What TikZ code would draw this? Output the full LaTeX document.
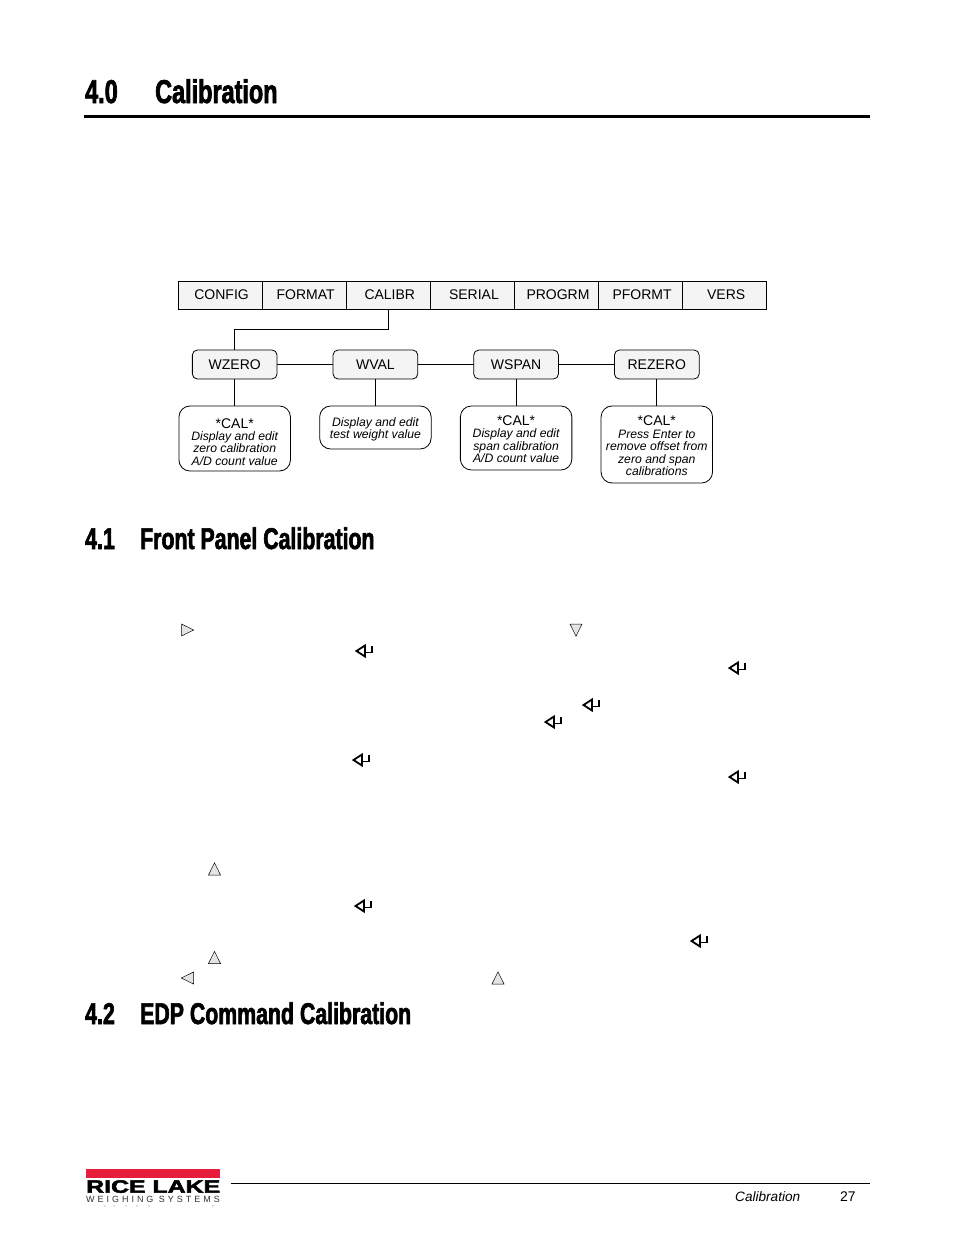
\documentclass[tikz,border=0pt]{standalone}
\usepackage{fontspec}
\setmainfont{Liberation Sans}
\newfontfamily\headfont[FakeStretch=0.71,FakeBold=2]{Liberation Sans Bold}
\newfontfamily\logofont[LetterSpace=33]{Liberation Sans}
\newfontfamily\logoheavy[FakeBold=2.5]{Liberation Sans Bold}
\usetikzlibrary{positioning}
\definecolor{ricered}{HTML}{E61E3C}
\definecolor{panelgray}{HTML}{F4F4F4}
\definecolor{icongray}{HTML}{E4E4E4}
\tikzset{
  menubox/.style={draw,fill=panelgray,line width=0.8pt,outer sep=0pt,minimum width=84.1pt,minimum height=28pt,inner sep=0pt,font=\fontsize{14}{14}\selectfont,execute at begin node=\hspace{3pt}},
  stepbox/.style={draw,fill=panelgray,rounded corners=5pt,line width=0.8pt,outer sep=0pt,minimum width=84.7pt,minimum height=29pt,inner sep=0pt,font=\fontsize{14}{14}\selectfont},
  notebox/.style={draw,fill=white,rounded corners=11pt,line width=0.8pt,outer sep=0pt,minimum width=111.5pt,inner sep=0pt,align=center,font=\fontsize{12.2}{12.4}\selectfont\itshape},
  headtext/.style={anchor=base west,inner sep=0pt,font=\fontsize{33}{33}\selectfont\headfont},
  subheadtext/.style={anchor=base west,inner sep=0pt,font=\fontsize{30}{30}\selectfont\headfont},
  foottext/.style={anchor=base west,inner sep=0pt,font=\fontsize{14}{14}\selectfont},
  pics/enterkey/.style={code={
    \draw[line width=1.8pt,miter limit=10] (-7.5,0) -- (1,-5.5) -- (1,5.5) -- cycle;
    \draw[line width=1.6pt] (1,1.3) -- (8,1.3) -- (8,-5);
  }},
  pics/triicon/.style={code={
    \filldraw[fill=icongray,line width=0.5pt] (0,-6.2) -- (-6,6) -- (6,6) -- cycle;
  }},
}
\newcommand{\calline}[1]{{\upshape\fontsize{14}{12.4}\selectfont\rule{0pt}{#1pt}*CAL*}}
\begin{document}
\begin{tikzpicture}[x=1pt,y=-1pt]
    \useasboundingbox (0,0) rectangle (954,1235);
    % page headings
    \fill (84,115) rectangle (870,118);
    \node[headtext] (h40) at (85,103) {4.0};
    \node[headtext] (h40t) at (155,103) {Calibration};
    \node[subheadtext] (h41) at (85,549) {4.1};
    \node[subheadtext] (h41t) at (140,549) {Front Panel Calibration};
    \node[subheadtext] (h42) at (85,1024) {4.2};
    \node[subheadtext] (h42t) at (140,1024) {EDP Command Calibration};
    % menu row
    \node[menubox] (config) at (220.1,295) {CONFIG};
    \node[menubox,right=0pt of config] (format) {FORMAT};
    \node[menubox,right=0pt of format] (calibr) {CALIBR};
    \node[menubox,right=0pt of calibr] (serial) {SERIAL};
    \node[menubox,right=0pt of serial] (progrm) {PROGRM};
    \node[menubox,right=0pt of progrm] (pformt) {PFORMT};
    \node[menubox,right=0pt of pformt] (vers) {VERS};
    % calibration steps
    \node[stepbox] (wzero) at (234.7,364.5) {WZERO};
    \node[stepbox,right=56pt of wzero] (wval) {WVAL};
    \node[stepbox,right=56pt of wval] (wspan) {WSPAN};
    \node[stepbox,right=56pt of wspan] (rezero) {REZERO};
    \node[notebox,below=27pt of wzero,minimum height=65pt] (nzero) {\calline{16.5}\\Display and edit\\zero calibration\\A/D count value};
    \node[notebox,below=27pt of wval,minimum height=43pt] (nval) {\rule{0pt}{13pt}Display and edit\\test weight value};
    \node[notebox,below=27pt of wspan,minimum height=64pt] (nspan) {\calline{12.5}\\Display and edit\\span calibration\\A/D count value};
    \node[notebox,below=27pt of rezero,minimum height=77pt] (nrezero) {\calline{12.5}\\Press Enter to\\remove offset from\\zero and span\\calibrations};
    \draw[line width=0.8pt] (calibr.south) -- ++(0,20) -| (wzero.north);
    \draw[line width=0.8pt] (wzero) -- (wval);
    \draw[line width=0.8pt] (wval) -- (wspan);
    \draw[line width=0.8pt] (wspan) -- (rezero);
    \draw[line width=0.8pt] (wzero) -- (nzero);
    \draw[line width=0.8pt] (wval) -- (nval);
    \draw[line width=0.8pt] (wspan) -- (nspan);
    \draw[line width=0.8pt] (rezero) -- (nrezero);
    % key icons
    \foreach \p in {(364,651),(737,668),(591,705),(553,722),(361,760),(737,777),(363,906),(699,941)} {
      \pic at \p {enterkey};
    };
    \foreach \p in {(214.5,869),(214.5,957.5),(498,978)} {
      \pic at \p {triicon};
    };
    \pic[rotate=-90] at (187.5,630) {triicon};
    \pic[rotate=180] at (576,630) {triicon};
    \pic[rotate=90] at (187.5,978) {triicon};
    % footer
    \fill[ricered] (86,1169) rectangle (220,1177.5);
    \node[inner sep=0pt,anchor=north west] (logoname) at (86,1180) {\resizebox{134pt}{12.5pt}{\logoheavy RICE LAKE}};
    \node[inner sep=0pt,anchor=base west,text=black!80,font=\fontsize{9}{9}\selectfont\logofont] (logosub) at (86,1202) {WEIGHING SYSTEMS};
    \foreach \p in {(105,1206),(114,1206),(126,1206),(137,1206),(149,1206),(213,1206)} {
      \fill[gray] \p circle (0.6);
    };
    \draw[line width=1pt] (231,1183.5) -- (870,1183.5);
    \node[foottext,font=\fontsize{13.6}{14}\selectfont\itshape] (footname) at (735,1201) {Calibration};
    \node[foottext] (footpage) at (840,1201) {27};
\end{tikzpicture}
\end{document}
